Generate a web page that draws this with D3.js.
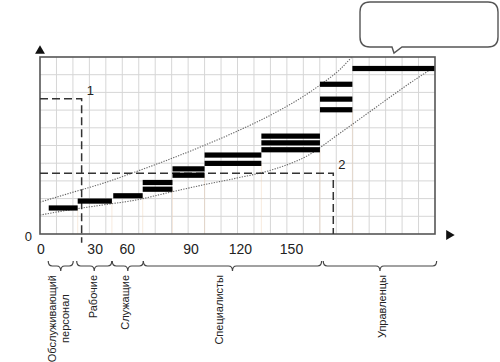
<!DOCTYPE html>
<html>
<head>
<meta charset="utf-8">
<script src="https://cdn.jsdelivr.net/npm/d3@7"></script>
<style>
  body { margin: 0; background: #fff; }
  text { font-family: "Liberation Sans", Arial, sans-serif; fill: #222; }
</style>
</head>
<body>
<div id="wrapper"></div>
<script>
// everything is in grid units: 24 columns by 10 rows
const barStarts = [0.53, 2.29, 4.45, 6.24, 8.05, 10.0, 13.45, 17.01, 18.98];
const barEnds = [2.29, 4.37, 6.24, 8.05, 10.0, 13.45, 17.01, 18.98, 23.96];
const barLevels = [
  [1.47],
  [1.86],
  [2.16],
  [2.91, 2.53],
  [3.68, 3.32],
  [4.46, 3.99],
  [5.53, 5.15, 4.76],
  [8.46, 7.62, 7.02],
  [9.35],
];

const upperX = [0, 1.78, 3.81, 5.83, 7.86, 9.89, 11.91, 14.18, 16.21, 17.21, 18.23, 18.94];
const upperY = [1.80, 2.30, 2.86, 3.52, 4.22, 4.97, 5.78, 6.80, 7.90, 8.55, 9.30, 10.0];
const lowerX = [0, 1.78, 3.81, 5.83, 7.86, 9.89, 11.91, 14.18, 16.21, 18.23, 20.25, 22.28, 23.9];
const lowerY = [1.07, 1.36, 1.64, 1.92, 2.35, 2.77, 3.15, 3.65, 4.40, 5.70, 7.05, 8.40, 9.40];

const refLabels = [`1`, `2`];
const refX = [2.53, 17.82];
const refY = [7.64, 3.43];

const tickLabels = [`0`, `30`, `60`, `90`, `120`, `150`];
const tickAt = [0.03, 3.32, 5.27, 9.14, 12.15, 15.25];

const categories = [[`Обслуживающий`, `персонал`], [`Рабочие`], [`Служащие`], [`Специалисты`], [`Управленцы`]];
const categoryFrom = [0.5, 2.23, 4.39, 6.28, 17.21];
const categoryTo = [2.02, 4.36, 6.28, 17.11, 24.1];

const margin = { top: 57, right: 65, bottom: 128, left: 40 };
const width = 500 - margin.left - margin.right;
const height = 362 - margin.top - margin.bottom;
const labelNudge = [-2, -1, -3, -13, 2];

const root = d3.select(`#wrapper`)
  .append(`svg`)
  .attr(`width`, 500)
  .attr(`height`, 362);

// speech bubble, empty
const bx0 = 360, bx1 = 498, by0 = 2, by1 = 47, r = 10;
root.append(`path`)
  .attr(`d`, `M${bx0 + r},${by0} H${bx1 - r} Q${bx1},${by0} ${bx1},${by0 + r} V${by1 - r} Q${bx1},${by1} ${bx1 - r},${by1}`
    + ` H402 L394,53 L392,${by1} H${bx0 + r} Q${bx0},${by1} ${bx0},${by1 - r} V${by0 + r} Q${bx0},${by0} ${bx0 + r},${by0} Z`)
  .attr(`fill`, `#fff`)
  .attr(`stroke`, `#555`)
  .attr(`stroke-width`, 1.4);

const svg = root.append(`g`)
  .attr(`transform`, `translate(${margin.left}, ${margin.top})`);

const xScale = d3.scaleLinear().domain([0, 24]).range([0, width]);
const yScale = d3.scaleLinear().domain([0, 10]).range([height, 0]);

// grid
svg.append(`g`).selectAll(`line`)
  .data(d3.range(1, 24))
  .join(`line`)
  .attr(`x1`, d => xScale(d)).attr(`x2`, d => xScale(d))
  .attr(`y1`, 0).attr(`y2`, height)
  .attr(`stroke`, `#d6d6d6`);

svg.append(`g`).selectAll(`line`)
  .data(d3.range(1, 10))
  .join(`line`)
  .attr(`x1`, 0).attr(`x2`, width)
  .attr(`y1`, d => yScale(d)).attr(`y2`, d => yScale(d))
  .attr(`stroke`, `#d6d6d6`);

// faint tinted drop lines at step edges
svg.append(`g`).selectAll(`line`)
  .data(barEnds.slice(0, -1))
  .join(`line`)
  .attr(`x1`, d => xScale(d)).attr(`x2`, d => xScale(d))
  .attr(`y1`, (d, i) => yScale(d3.min(barLevels[i]))).attr(`y2`, height)
  .attr(`stroke`, `#efd2b8`)
  .attr(`stroke-opacity`, 0.45);

svg.append(`rect`)
  .attr(`width`, width).attr(`height`, height)
  .attr(`fill`, `none`)
  .attr(`stroke`, `#555`)
  .attr(`stroke-width`, 1.6);

// dotted envelope curves
const line = d3.line().curve(d3.curveMonotoneX);
[[upperX, upperY], [lowerX, lowerY]].forEach(([xs, ys]) => {
  svg.append(`path`)
    .attr(`d`, line(xs.map((v, i) => [xScale(v), yScale(ys[i])])))
    .attr(`fill`, `none`)
    .attr(`stroke`, `#666`)
    .attr(`stroke-width`, 1.1)
    .attr(`stroke-dasharray`, `1.3,1.3`);
});

// dashed reference lines
refX.forEach((rx, i) => {
  svg.append(`path`)
    .attr(`d`, `M${xScale(0)},${yScale(refY[i])} H${xScale(rx)} V${yScale(i === 0 ? -0.5 : 0)}`)
    .attr(`fill`, `none`)
    .attr(`stroke`, `#333`)
    .attr(`stroke-width`, 1.5)
    .attr(`stroke-dasharray`, `8,4`);
  svg.append(`text`)
    .attr(`x`, xScale(rx) + 5)
    .attr(`y`, yScale(refY[i]) - 4)
    .attr(`font-size`, 13)
    .text(refLabels[i]);
});

// step bars
const bars = barLevels.flatMap((levels, i) => levels.map(v => ({ x0: barStarts[i], x1: barEnds[i], v })));
svg.selectAll(`.bar`)
  .data(bars)
  .join(`rect`)
  .attr(`class`, `bar`)
  .attr(`x`, d => xScale(d.x0))
  .attr(`width`, d => xScale(d.x1) - xScale(d.x0))
  .attr(`y`, d => yScale(d.v) - 2.6)
  .attr(`height`, 5.2)
  .attr(`fill`, `#000`);

// axes
const xAxis = svg.append(`g`)
  .attr(`transform`, `translate(0, ${height})`)
  .call(d3.axisBottom(xScale).tickValues(tickAt).tickFormat((d, i) => tickLabels[i]).tickSize(0).tickPadding(10));
xAxis.select(`.domain`).remove();
xAxis.selectAll(`text`).attr(`font-size`, 14).attr(`font-family`, null).attr(`fill`, `#222`);

const yAxis = svg.append(`g`)
  .call(d3.axisLeft(yScale).tickValues([0]).tickSize(0).tickPadding(8));
yAxis.select(`.domain`).remove();
yAxis.selectAll(`text`).attr(`font-size`, 13).attr(`font-family`, null).attr(`fill`, `#222`).attr(`dy`, `0.5em`);

const tri = d3.symbol(d3.symbolTriangle, 42);
svg.append(`path`).attr(`d`, tri()).attr(`transform`, `translate(0, -6)`).attr(`fill`, `#111`);
svg.append(`path`).attr(`d`, tri()).attr(`transform`, `translate(${width + 14}, ${height + 1}) rotate(90)`).attr(`fill`, `#111`);

// braces and category names
const yTop = height + 27, yMid = height + 32, yTip = height + 37, br = 4;
categories.forEach((lines, i) => {
  const a = xScale(categoryFrom[i]), b = xScale(categoryTo[i]), m = (a + b) / 2;
  svg.append(`path`)
    .attr(`d`, `M${a},${yTop} Q${a},${yMid} ${a + br},${yMid} H${m - br} Q${m},${yMid} ${m},${yTip}`
      + ` Q${m},${yMid} ${m + br},${yMid} H${b - br} Q${b},${yMid} ${b},${yTop}`)
    .attr(`fill`, `none`)
    .attr(`stroke`, `#444`)
    .attr(`stroke-width`, 1.2);

  const g = svg.append(`g`);
  const texts = lines.map((s, j) => g.append(`text`)
    .attr(`font-size`, 11)
    .attr(`text-anchor`, `middle`)
    .attr(`dy`, `0.35em`)
    .text(s));
  const len = texts[0].node().getComputedTextLength();
  texts.forEach((t, j) => {
    const off = (j - (lines.length - 1) / 2) * 13.5;
    t.attr(`transform`, `translate(${m + labelNudge[i] + off}, ${yTip + 4 + len / 2}) rotate(-90)`);
  });
});
</script>
</body>
</html>
